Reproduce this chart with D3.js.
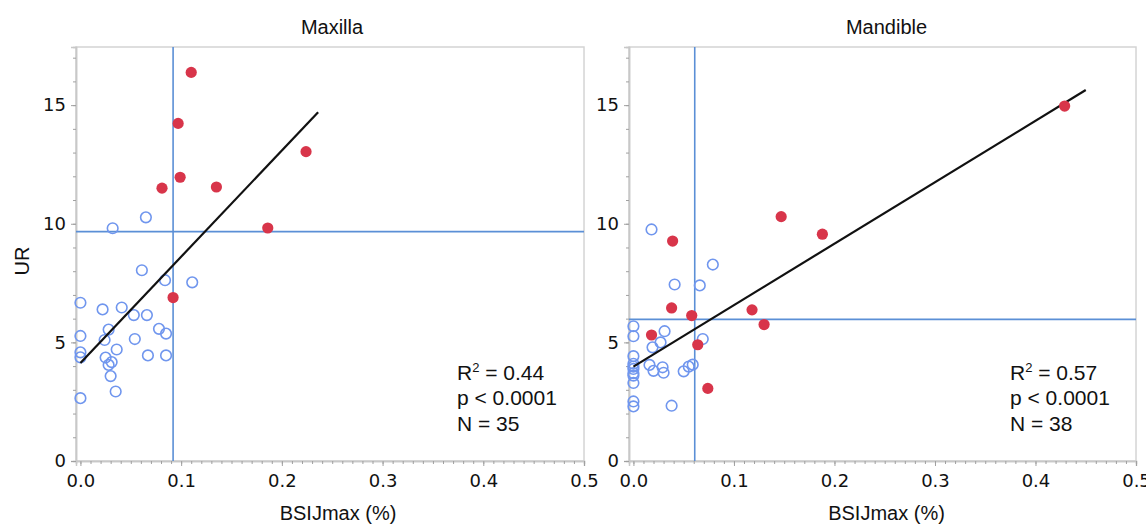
<!DOCTYPE html>
<html><head><meta charset="utf-8">
<script src="https://cdn.jsdelivr.net/npm/d3@7"></script>
<style>body{margin:0;background:#fff}svg{display:block}</style>
</head><body>
<svg id="c" width="1146" height="524"></svg>
<script>
// ---- data ----
const titles = ["Maxilla", "Mandible"];
const xTicks = [0, 0.1, 0.2, 0.3, 0.4, 0.5];
const yTicks = [0, 5, 10, 15];
// Maxilla: open (blue) points [BSIJmax, UR]
const maxOpen = [[0.065,10.27],[0.032,9.81],[0.061,8.04],[0.084,7.62],[0.111,7.53],[0,6.67],[0.022,6.39],[0.041,6.47],[0.053,6.15],[0.066,6.15],[0.028,5.54],[0,5.27],[0.024,5.10],[0.054,5.14],[0.078,5.57],[0.085,5.37],[0.036,4.70],[0,4.58],[0,4.37],[0.025,4.36],[0.031,4.17],[0.028,4.05],[0.067,4.45],[0.085,4.45],[0.030,3.58],[0.035,2.93],[0,2.65]];
const maxFilled = [[0.110,16.38],[0.097,14.23],[0.099,11.96],[0.081,11.50],[0.135,11.55],[0.224,13.04],[0.186,9.82],[0.092,6.89]];
// Mandible
const manOpen = [[0.018,9.76],[0.079,8.28],[0.041,7.44],[0.066,7.40],[0,5.68],[0,5.26],[0.031,5.47],[0.027,5.0],[0.019,4.79],[0.069,5.14],[0,4.42],[0,4.10],[0,3.98],[0,3.88],[0,3.70],[0,3.60],[0,3.29],[0,2.51],[0,2.30],[0.016,4.05],[0.020,3.80],[0.029,3.95],[0.030,3.72],[0.050,3.78],[0.055,3.98],[0.059,4.06],[0.038,2.33]];
const manFilled = [[0.429,14.96],[0.147,10.30],[0.188,9.56],[0.039,9.27],[0.038,6.45],[0.058,6.13],[0.118,6.37],[0.130,5.75],[0.018,5.31],[0.064,4.90],[0.074,3.06]];
// reference cut-off lines [x, y]
const cutoffs = [[0.092, 9.67], [0.061, 5.97]];
// regression lines [intercept, slope, xStart, xEnd]
const fits = [[4.13, 44.8, 0, 0.236], [3.98, 25.9, 0, 0.45]];
const stats = [["0.44","p < 0.0001","N = 35"],["0.57","p < 0.0001","N = 38"]];

// ---- layout ----
const svg = d3.select("#c");
const panels = [
  {left:76, right:584, top:47, bottom:461, open:maxOpen, filled:maxFilled, ylab:true},
  {left:629, right:1136, top:47, bottom:461, open:manOpen, filled:manFilled, ylab:false}
];
const tickFont = "'DejaVu Sans', Verdana, sans-serif";
const textFont = "'Liberation Sans', Arial, sans-serif";

panels.forEach((p, i) => {
  const x = d3.scaleLinear().domain([-0.0044, 0.5]).range([p.left, p.right]);
  const y = d3.scaleLinear().domain([0, 17.45]).range([p.bottom, p.top]);
  const g = svg.append("g");

  // frame
  g.append("rect").attr("x", p.left).attr("y", p.top)
    .attr("width", p.right - p.left).attr("height", p.bottom - p.top)
    .attr("fill", "none").attr("stroke", "#d4d4d4").attr("stroke-width", 1.5);

  // axes
  const xAxis = g.append("g").attr("transform", `translate(0,${p.bottom})`)
    .call(d3.axisBottom(x).tickValues(xTicks).tickFormat(d3.format(".1f")).tickSize(5).tickPadding(8));
  const xMinor = g.append("g").attr("transform", `translate(0,${p.bottom})`)
    .call(d3.axisBottom(x).tickValues(d3.range(0, 0.5001, 0.01)).tickFormat("").tickSize(3));
  const yAxis = g.append("g").attr("transform", `translate(${p.left},0)`)
    .call(d3.axisLeft(y).tickValues(yTicks).tickSize(5).tickPadding(5));
  const yMinor = g.append("g").attr("transform", `translate(${p.left},0)`)
    .call(d3.axisLeft(y).tickValues(d3.range(0, 17.01, 1)).tickFormat("").tickSize(3));
  [xAxis, xMinor, yAxis, yMinor].forEach(a => {
    a.select(".domain").attr("stroke", "#c8c8c8").attr("stroke-width", 1.5);
    a.selectAll(".tick line").attr("stroke", "#a0a0a0");
    a.selectAll("text").attr("font-family", tickFont).attr("font-size", 18).attr("fill", "#111");
  });

  // cut-off lines
  const c = cutoffs[i];
  g.append("line").attr("x1", x(c[0])).attr("x2", x(c[0])).attr("y1", p.top).attr("y2", p.bottom)
    .attr("stroke", "#5b8fd6").attr("stroke-width", 1.6);
  g.append("line").attr("x1", p.left).attr("x2", p.right).attr("y1", y(c[1])).attr("y2", y(c[1]))
    .attr("stroke", "#5b8fd6").attr("stroke-width", 1.6);

  // open points
  g.selectAll(".o").data(p.open).join("circle")
    .attr("cx", d => x(d[0])).attr("cy", d => y(d[1])).attr("r", 5.3)
    .attr("fill", "none").attr("stroke", "#7096ee").attr("stroke-width", 1.6);

  // regression
  const f = fits[i];
  g.append("line").attr("x1", x(f[2])).attr("y1", y(f[0] + f[1] * f[2]))
    .attr("x2", x(f[3])).attr("y2", y(f[0] + f[1] * f[3]))
    .attr("stroke", "#111").attr("stroke-width", 2.2);

  // filled points
  g.selectAll(".f").data(p.filled).join("circle")
    .attr("cx", d => x(d[0])).attr("cy", d => y(d[1])).attr("r", 5.6)
    .attr("fill", "#d8354a");

  // title
  g.append("text").attr("x", (p.left + p.right) / 2 + (i ? 4 : 2)).attr("y", 34)
    .attr("text-anchor", "middle").attr("font-family", textFont).attr("font-size", 20)
    .attr("fill", "#111").text(titles[i]);
  // x label
  g.append("text").attr("x", (p.left + p.right) / 2 + (i ? 4 : 8)).attr("y", 520)
    .attr("text-anchor", "middle").attr("font-family", textFont).attr("font-size", 20)
    .attr("fill", "#111").text("BSIJmax (%)");
  // y label
  if (p.ylab) {
    g.append("text").attr("transform", `translate(29,261) rotate(-90)`)
      .attr("text-anchor", "middle").attr("font-family", textFont).attr("font-size", 20)
      .attr("fill", "#111").text("UR");
  }
  // stats
  const sx = p.right - (i ? 126 : 127);
  const st = g.append("text").attr("font-family", textFont).attr("font-size", 21).attr("fill", "#111");
  const t1 = st.append("tspan").attr("x", sx).attr("y", 380);
  t1.append("tspan").text("R");
  t1.append("tspan").attr("font-size", 13).attr("dy", -8).text("2");
  t1.append("tspan").attr("dy", 8).text(" = " + stats[i][0]);
  st.append("tspan").attr("x", sx).attr("y", 405).text(stats[i][1]);
  st.append("tspan").attr("x", sx).attr("y", 431).text(stats[i][2]);
});
</script>
</body></html>
